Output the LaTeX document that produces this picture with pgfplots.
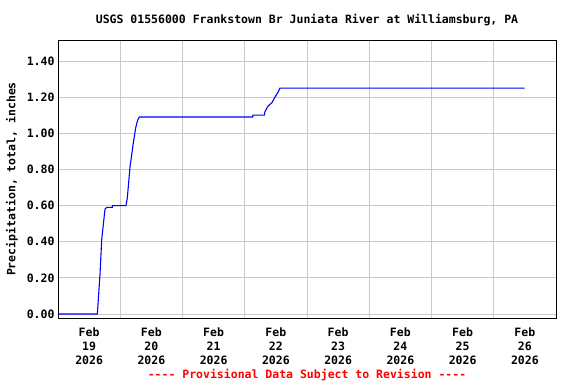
\documentclass[border=0pt]{standalone}
\usepackage{fontspec}
\setmainfont{DejaVu Sans Mono}[Ligatures=TeXOff]
\usepackage{pgfplots}
\pgfplotsset{compat=1.18}
\definecolor{gridgray}{RGB}{200,200,200}
\begin{document}
\begin{tikzpicture}[x=1pt,y=1pt]
\useasboundingbox (0,0) rectangle (576,384);
\begin{axis}[
  at={(58pt,66pt)}, anchor=south west,
  scale only axis, width=498pt, height=278pt,
  xmin=0, xmax=8, ymin=-0.022, ymax=1.516,
  font=\fontsize{11.5}{14}\selectfont\bfseries,
  /pgf/number format/assume math mode=true,
  xtick={0.5,1.5,2.5,3.5,4.5,5.5,6.5,7.5},
  xticklabels={Feb\\19\\2026,Feb\\20\\2026,Feb\\21\\2026,Feb\\22\\2026,Feb\\23\\2026,Feb\\24\\2026,Feb\\25\\2026,Feb\\26\\2026},
  xticklabel style={align=center, yshift=-6pt},
  minor xtick={1,2,3,4,5,6,7},
  xminorgrids=true, xmajorgrids=false,
  ytick={0,0.2,0.4,0.6,0.8,1.0,1.2,1.4},
  yticklabel style={/pgf/number format/.cd, fixed, fixed zerofill, precision=2},
  ymajorgrids=true,
  major tick length=0pt, minor tick length=0pt,
  grid style={gridgray, line width=0.8pt},
  minor grid style={gridgray, line width=0.8pt},
  axis line style={black, line width=0.9pt},
  title={USGS 01556000 Frankstown Br Juniata River at Williamsburg, PA},
  title style={at={(axis description cs:0.5,1)}, anchor=center, yshift=14pt},
  ylabel={Precipitation, total, inches},
  ylabel style={at={(axis description cs:-0.0924,0.5)}, anchor=center, rotate=0},
]
\addplot[blue, line width=1.1pt, sharp plot] coordinates {
(0,0) (0.632,0) (0.675,0.22) (0.702,0.41) (0.739,0.53) (0.755,0.58)
(0.782,0.59) (0.872,0.59) (0.873,0.60) (1.092,0.60) (1.113,0.64)
(1.157,0.815) (1.210,0.946) (1.248,1.03) (1.280,1.073) (1.306,1.09)
(3.128,1.09) (3.130,1.10) (3.314,1.10) (3.325,1.12) (3.373,1.15)
(3.438,1.17) (3.486,1.20) (3.539,1.23) (3.566,1.25) (7.497,1.25)
};
\end{axis}
\node[font=\fontsize{11.5}{14}\selectfont\bfseries, text=red] at (307,9) {---- Provisional Data Subject to Revision ----};
\end{tikzpicture}
\end{document}
